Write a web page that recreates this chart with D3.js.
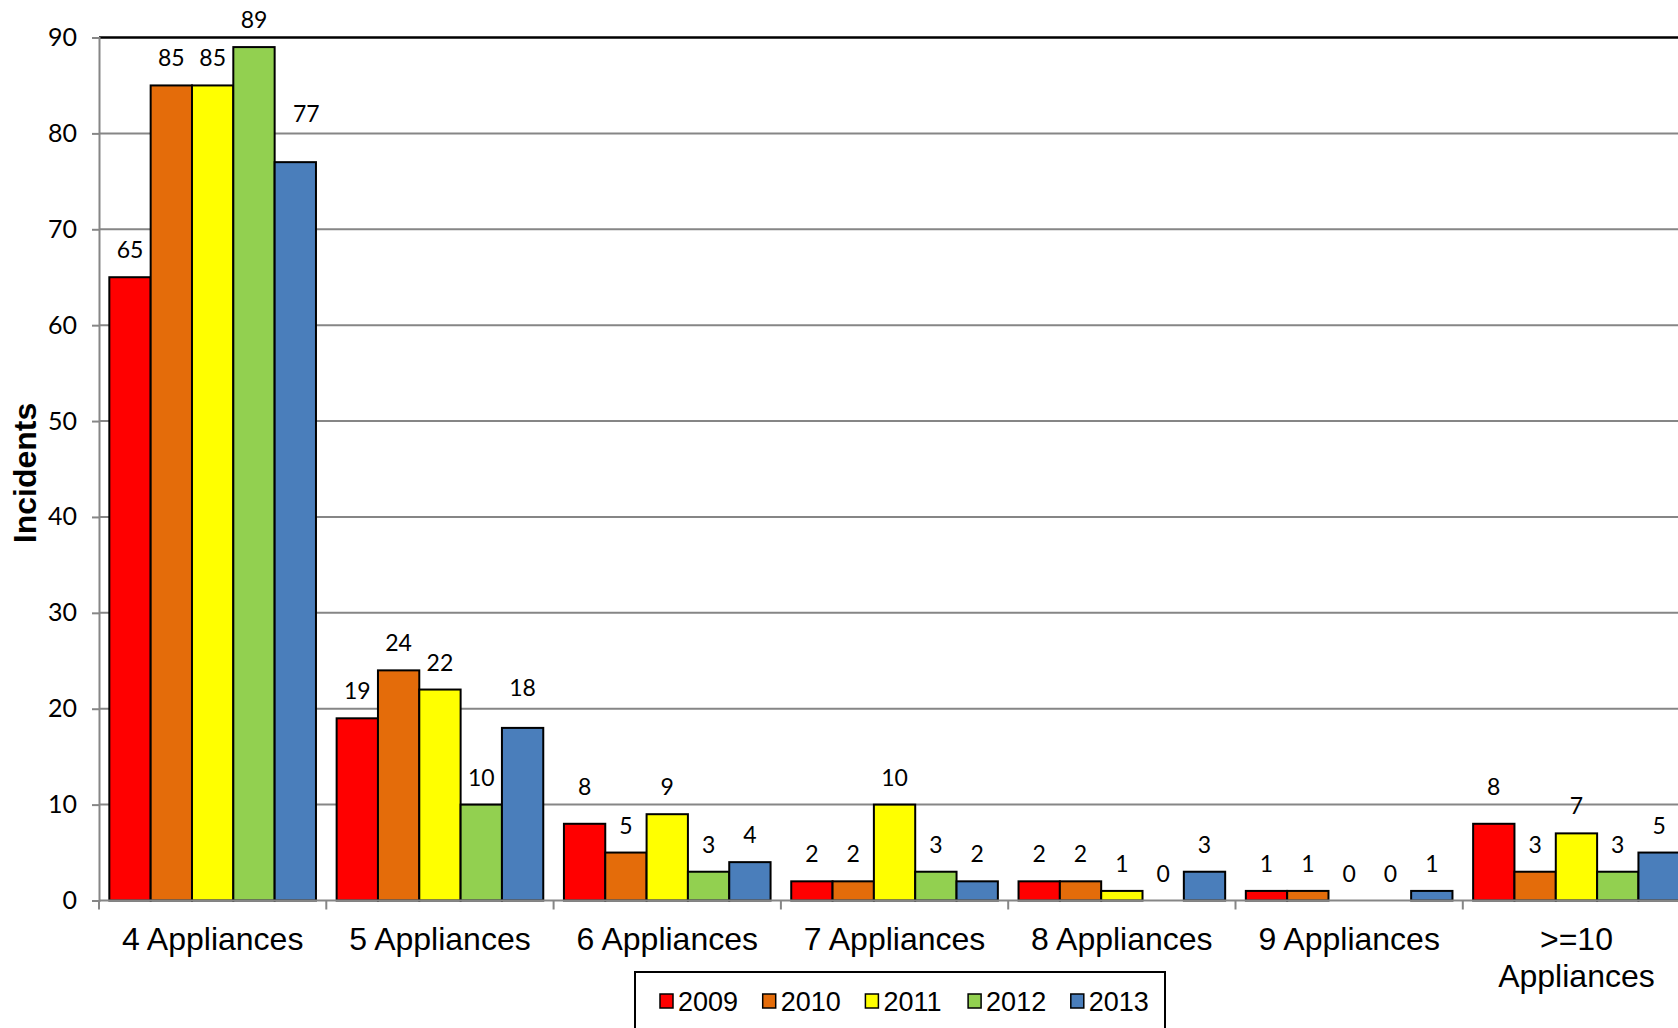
<!DOCTYPE html>
<html>
<head>
<meta charset="utf-8">
<script src="https://cdn.jsdelivr.net/npm/d3@7"></script>
<style>
  body { margin: 0; background: #fff; overflow: hidden; }
  svg { display: block; }
</style>
</head>
<body>
<svg id="chart"></svg>
<script>
var categories = ["4 Appliances", "5 Appliances", "6 Appliances", "7 Appliances", "8 Appliances", "9 Appliances", ">=10 Appliances"];
var years = ["2009", "2010", "2011", "2012", "2013"];
var values2009 = [65, 19, 8, 2, 2, 1, 8];
var values2010 = [85, 24, 5, 2, 2, 1, 3];
var values2011 = [85, 22, 9, 10, 1, 0, 7];
var values2012 = [89, 10, 3, 3, 0, 0, 3];
var values2013 = [77, 18, 4, 2, 3, 1, 5];
var yTicks = [0, 10, 20, 30, 40, 50, 60, 70, 80, 90];
var yearColors = ["#FF0000", "#E46C0A", "#FFFF00", "#92D050", "#4A7EBB"];

var width = 1678;
var height = 1028;

var series = [values2009, values2010, values2011, values2012, values2013];

// a few labels were moved by hand in the original (dx, dy in px)
var labelNudge = {
    "4 Appliances|2013": [11, -21],
    "5 Appliances|2013": [0, -13],
    "6 Appliances|2009": [0, -10],
    ">=10 Appliances|2009": [0, -10]
};

function color(year) {
    return yearColors[years.indexOf(year)];
}

function nudge(d, k) {
    var n = labelNudge[d.cat + "|" + d.year];
    return n ? n[k] : 0;
}

document.addEventListener("DOMContentLoaded", function () {
    draw();
});

function draw() {
    var svg = d3.select("#chart")
        .attr("width", width)
        .attr("height", height);

    // plot area runs past the right edge of the picture, like the original
    var left = 99, right = 99 + 7 * 227.3;
    var top = 37.5, bottom = 900.5;

    var x0 = d3.scaleBand().domain(categories).range([left, right]).padding(0);
    var x1 = d3.scaleBand().domain(years).range([0, x0.bandwidth()]).paddingInner(0).paddingOuter(0.25);
    var y = d3.scaleLinear().domain([0, 90]).range([bottom, top]);

    // grid lines
    svg.append("g")
        .selectAll("line")
        .data(yTicks.filter(function (d) { return d > 0 && d < 90; }))
        .enter()
        .append("line")
        .attr("x1", left)
        .attr("x2", right)
        .attr("y1", function (d) { return y(d); })
        .attr("y2", function (d) { return y(d); })
        .attr("stroke", "#868686")
        .attr("stroke-width", 2);

    // top border
    svg.append("line")
        .attr("x1", left).attr("x2", right)
        .attr("y1", y(90)).attr("y2", y(90))
        .attr("stroke", "#000")
        .attr("stroke-width", 2.5);

    // bars
    var rows = [];
    for (var i = 0; i < categories.length; i++) {
        for (var j = 0; j < years.length; j++) {
            rows.push({ cat: categories[i], year: years[j], value: series[j][i] });
        }
    }

    var bars = svg.append("g");
    bars.selectAll("rect")
        .data(rows)
        .enter()
        .append("rect")
        .attr("x", function (d) { return x0(d.cat) + x1(d.year); })
        .attr("y", function (d) { return y(d.value); })
        .attr("width", x1.bandwidth())
        .attr("height", function (d) { return y(0) - y(d.value); })
        .attr("fill", function (d) { return color(d.year); })
        .attr("stroke", "#000")
        .attr("stroke-width", function (d) { return d.value > 0 ? 2 : 0; });

    bars.selectAll("text")
        .data(rows)
        .enter()
        .append("text")
        .attr("x", function (d) { return x0(d.cat) + x1(d.year) + x1.bandwidth() / 2 + nudge(d, 0); })
        .attr("y", function (d) { return y(d.value) - 19 + nudge(d, 1); })
        .attr("text-anchor", "middle")
        .style("font-family", "Lato, 'Open Sans', sans-serif")
        .style("font-size", "23px")
        .attr("fill", "#000")
        .text(function (d) { return d.value; });

    // y axis
    var yAxis = d3.axisLeft(y).tickValues(yTicks).tickSize(7).tickPadding(15);
    var gy = svg.append("g")
        .attr("transform", "translate(" + left + ",0)")
        .call(yAxis);
    gy.select(".domain").attr("stroke", "#868686").attr("stroke-width", 2);
    gy.selectAll(".tick line").attr("stroke", "#868686").attr("stroke-width", 2);
    gy.selectAll(".tick text")
        .style("font-family", "Lato, 'Open Sans', sans-serif")
        .style("font-size", "25px")
        .attr("fill", "#000");

    // x axis line and ticks at category boundaries
    svg.append("line")
        .attr("x1", left).attr("x2", right)
        .attr("y1", y(0)).attr("y2", y(0))
        .attr("stroke", "#868686")
        .attr("stroke-width", 2);

    svg.append("g")
        .selectAll("line")
        .data(categories)
        .enter()
        .append("line")
        .attr("x1", function (d) { return x0(d); })
        .attr("x2", function (d) { return x0(d); })
        .attr("y1", y(0))
        .attr("y2", y(0) + 9)
        .attr("stroke", "#868686")
        .attr("stroke-width", 2);

    // category labels, the last one wraps on two lines
    var catLabels = svg.append("g")
        .selectAll("text")
        .data(categories)
        .enter()
        .append("text")
        .attr("text-anchor", "middle")
        .style("font-family", "'Liberation Sans', Arial, sans-serif")
        .style("font-size", "32px")
        .attr("fill", "#000");

    catLabels.each(function (d) {
        var t = d3.select(this);
        var cx = x0(d) + x0.bandwidth() / 2;
        var parts = d.indexOf(">=") === 0 ? [d.split(" ")[0], d.split(" ")[1]] : [d];
        parts.forEach(function (p, k) {
            t.append("tspan")
                .attr("x", cx)
                .attr("y", 950 + k * 37)
                .text(p);
        });
    });

    // y axis title
    svg.append("text")
        .attr("transform", "translate(36," + ((top + bottom) / 2 + 4) + ") rotate(-90)")
        .attr("text-anchor", "middle")
        .style("font-family", "'Liberation Sans', Arial, sans-serif")
        .style("font-size", "32px")
        .style("font-weight", "bold")
        .text("Incidents");

    // legend
    var legend = svg.append("g");
    legend.append("rect")
        .attr("x", 635)
        .attr("y", 972)
        .attr("width", 530)
        .attr("height", 90)
        .attr("fill", "#fff")
        .attr("stroke", "#000")
        .attr("stroke-width", 2);

    var items = legend.selectAll("g.item")
        .data(years)
        .enter()
        .append("g")
        .attr("class", "item")
        .attr("transform", function (d, i) { return "translate(" + (660 + i * 102.7) + ",0)"; });

    items.append("rect")
        .attr("x", 0)
        .attr("y", 994)
        .attr("width", 13)
        .attr("height", 14)
        .attr("fill", function (d) { return color(d); })
        .attr("stroke", "#000")
        .attr("stroke-width", 1.5);

    items.append("text")
        .attr("x", 18)
        .attr("y", 1011)
        .style("font-family", "'Liberation Sans', Arial, sans-serif")
        .style("font-size", "27px")
        .attr("fill", "#000")
        .text(function (d) { return d; });
}
</script>
</body>
</html>
